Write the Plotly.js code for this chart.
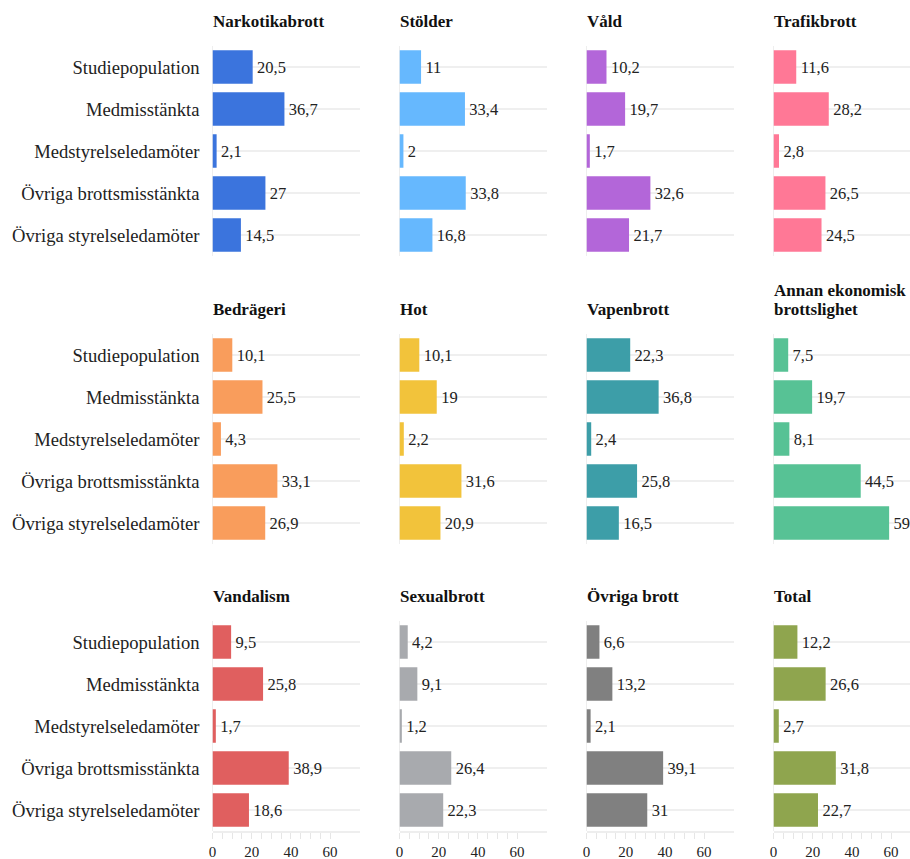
<!DOCTYPE html>
<html>
<head>
<meta charset="utf-8">
<script src="https://cdn.plot.ly/plotly-3.0.1.min.js"></script>
<style>
html,body{margin:0;padding:0;overflow:hidden;background:#fff;}
#chart{width:930px;height:859px;}
</style>
</head>
<body>
<div id="chart"></div>
<script>
const categories = ["Studiepopulation","Medmisstänkta","Medstyrelseledamöter","Övriga brottsmisstänkta","Övriga styrelseledamöter"];
const panelTitles = ["Narkotikabrott","Stölder","Våld","Trafikbrott","Bedrägeri","Hot","Vapenbrott","Annan ekonomisk<br>brottslighet","Vandalism","Sexualbrott","Övriga brott","Total"];
const narkotikabrott = [20.5, 36.7, 2.1, 27, 14.5];
const stolder = [11, 33.4, 2, 33.8, 16.8];
const vald = [10.2, 19.7, 1.7, 32.6, 21.7];
const trafikbrott = [11.6, 28.2, 2.8, 26.5, 24.5];
const bedrageri = [10.1, 25.5, 4.3, 33.1, 26.9];
const hot = [10.1, 19, 2.2, 31.6, 20.9];
const vapenbrott = [22.3, 36.8, 2.4, 25.8, 16.5];
const annanEkonomisk = [7.5, 19.7, 8.1, 44.5, 59];
const vandalism = [9.5, 25.8, 1.7, 38.9, 18.6];
const sexualbrott = [4.2, 9.1, 1.2, 26.4, 22.3];
const ovrigaBrott = [6.6, 13.2, 2.1, 39.1, 31];
const total = [12.2, 26.6, 2.7, 31.8, 22.7];
const seriesValues = [narkotikabrott, stolder, vald, trafikbrott, bedrageri, hot, vapenbrott, annanEkonomisk, vandalism, sexualbrott, ovrigaBrott, total];
const colors = ["#3b74dd","#66b8fe","#b366d9","#ff7896","#f99d5c","#f2c33b","#3d9ea8","#57c295","#e05f5f","#a8aaae","#808080","#8fa54e"];
const xTickVals = [0, 20, 40, 60];
const xMinorTickVals = [0,5,10,15,20,25,30,35,40,45,50,55,60];

const W = 930, H = 859;
const FONT = "'Liberation Serif', 'Times New Roman', serif";
const TXT = "#222222";
const colLeft = [212.5, 399.5, 586.5, 773.5];
const plotW = 147;
const rowTop = [46, 334, 621];
const plotH = 210;

const data = [];
const layout = {
  width: W, height: H,
  margin: {l:0, r:0, t:0, b:0},
  paper_bgcolor: "#fff", plot_bgcolor: "#fff",
  showlegend: false,
  bargap: 0.2,
  font: {family: FONT, color: TXT, size: 16},
  annotations: []
};

seriesValues.forEach((vals, i) => {
  const r = Math.floor(i / 4), c = i % 4;
  const sfx = i === 0 ? "" : String(i + 1);
  data.push({
    type: "bar", orientation: "h",
    x: vals, y: categories,
    xaxis: "x" + sfx, yaxis: "y" + sfx,
    marker: {color: colors[i]},
    text: vals.map(v => "\u200A" + String(v).replace(".", ",")),
    textposition: "outside",
    cliponaxis: false,
    textfont: {family: FONT, size: 16.5, color: TXT},
    outsidetextfont: {family: FONT, size: 16.5, color: TXT},
    hoverinfo: "x+y"
  });
  const bottom = r === 2;
  layout["xaxis" + sfx] = {
    domain: [colLeft[c] / W, (colLeft[c] + plotW) / W],
    anchor: "y" + sfx,
    range: [0, 75],
    fixedrange: true,
    showgrid: false,
    zeroline: true, zerolinecolor: "#eeeeee", zerolinewidth: 1.5,
    showline: bottom, linecolor: "#eeeeee", linewidth: 1.5,
    tickmode: "array", tickvals: xTickVals,
    showticklabels: bottom,
    ticks: bottom ? "outside" : "", ticklen: 6, tickcolor: "#e6e6e6", tickwidth: 1,
    minor: bottom ? {tickmode: "array", tickvals: xMinorTickVals, ticks: "outside", ticklen: 6, tickcolor: "#e6e6e6", tickwidth: 1, showgrid: false} : undefined,
    tickfont: {family: FONT, size: 15, color: TXT}
  };
  layout["yaxis" + sfx] = {
    domain: [1 - (rowTop[r] + plotH) / H, 1 - rowTop[r] / H],
    anchor: "x" + sfx,
    type: "category",
    categoryorder: "array", categoryarray: categories,
    autorange: "reversed",
    fixedrange: true,
    showgrid: true, gridcolor: "#efefef", gridwidth: 1.5,
    zeroline: false, showline: false,
    ticks: "",
    showticklabels: c === 0,
    ticklabelstandoff: 12,
    tickfont: {family: FONT, size: 18.6, color: TXT}
  };
  const lines = panelTitles[i].split("<br>");
  lines.forEach((ln, k) => {
    const fromBottom = lines.length - 1 - k;
    layout.annotations.push({
      xref: "x" + sfx + " domain", yref: "y" + sfx + " domain",
      x: 0, y: 1, xanchor: "left", yanchor: "bottom",
      xshift: -1, yshift: 14 + 19 * fromBottom,
      borderpad: 0,
      align: "left",
      showarrow: false,
      text: "<b>" + ln + "</b>",
      font: {family: FONT, size: 17, color: "#111"}
    });
  });
});

Plotly.newPlot("chart", data, layout, {displayModeBar: false, staticPlot: true});
</script>
</body>
</html>
